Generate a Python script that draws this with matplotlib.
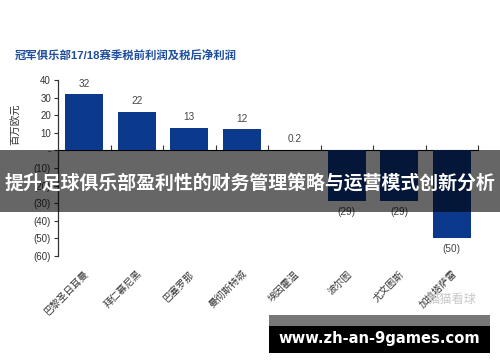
import matplotlib
matplotlib.use("Agg")
import matplotlib.pyplot as plt
from matplotlib.ticker import FuncFormatter
from matplotlib.patches import Rectangle

plt.rcParams['font.family'] = ['Liberation Sans', 'Noto Sans CJK SC', 'DejaVu Sans']

clubs = ["巴黎圣日耳曼", "拜仁慕尼黑", "巴塞罗那", "曼彻斯特城", "埃因霍温", "波尔图", "尤文图斯", "加拉塔萨雷"]
values = [32, 22, 13, 12, 0.2, -29, -29, -50]
value_labels = ["32", "22", "13", "12", "0.2", "(29)", "(29)", "(50)"]
yticks = [40, 30, 20, 10, 0, -10, -20, -30, -40, -50, -60]
title = "冠军俱乐部17/18赛季税前利润及税后净利润"
ylabel = "百万欧元"
banner = "提升足球俱乐部盈利性的财务管理策略与运营模式创新分析"
site = "www.zh-an-9games.com"
logo = "猫猫看球"

W, H = 500, 362
fig = plt.figure(figsize=(W / 100, H / 100), dpi=100)
fig.patch.set_facecolor("white")

ymin, ymax = -60, 40
ax = fig.add_axes([58 / W, 1 - 256 / H, 420 / W, 176 / H])
x = list(range(len(clubs)))
bars = ax.bar(x, values, width=0.73, color="#0b3a8c", zorder=2)
ax.bar_label(bars, labels=value_labels, padding=4, fontsize=7.2, color="#444444")

ax.set_xlim(-0.5, len(clubs) - 0.5)
ax.set_ylim(ymin, ymax)
ax.set_yticks(yticks)
ax.yaxis.set_major_formatter(FuncFormatter(
    lambda v, p: "-" if v == 0 else (f"({-v:.0f})" if v < 0 else f"{v:.0f}")))
ax.tick_params(axis="y", labelsize=7, colors="#333333", length=3, width=0.8, pad=2)

ax.set_xticks(x)
ax.set_xticklabels(clubs, rotation=45, ha="right", rotation_mode="anchor",
                   fontsize=7, color="#333333")
ax.tick_params(axis="x", length=0, pad=9)

for s in ["top", "right", "bottom"]:
    ax.spines[s].set_visible(False)
ax.spines["left"].set_color("#333333")
ax.spines["left"].set_linewidth(0.9)

# zero axis with category-boundary ticks
zero_frac = (0 - ymin) / (ymax - ymin)
sec = ax.secondary_xaxis(zero_frac)
sec.set_xticks([i + 0.5 for i in x])
sec.tick_params(axis="x", direction="out", length=3.5, width=0.8, color="#333333",
                labelbottom=False, labeltop=False)
sec.spines["bottom"].set_color("#333333")
sec.spines["bottom"].set_linewidth(0.9)

fig.text(15 / W, 1 - 55 / H, title, fontsize=8.2, fontweight="bold", color="#1f4e9e",
         ha="left", va="center")
fig.text(15 / W, 1 - 124 / H, ylabel, fontsize=7.5, color="#333333", rotation=90,
         ha="center", va="center")

# overlay banner
fig.patches.append(Rectangle((0, 1 - 212 / H), 1, 62 / H, transform=fig.transFigure,
                             facecolor="black", alpha=0.6, edgecolor="none", zorder=5))
fig.text(0.5, 1 - 183 / H, banner, fontsize=13.6, fontweight="bold", color="white",
         family=["Noto Sans CJK SC", "DejaVu Sans"], ha="center", va="center", zorder=6)

# faint logo watermark
fig.text(452 / W, 1 - 299 / H, logo, fontsize=8.8, color="#c8c8c8",
         family=["Noto Sans CJK SC", "DejaVu Sans"], ha="center", va="center", zorder=6)

# site watermark box
fig.patches.append(Rectangle((269 / W, 1 - 326 / H), 221 / W, 11 / H, transform=fig.transFigure,
                             facecolor="#777777", edgecolor="none", zorder=5))
fig.patches.append(Rectangle((269 / W, 1 - 353 / H), 221 / W, 27 / H, transform=fig.transFigure,
                             facecolor="black", edgecolor="none", zorder=5))
fig.text(379 / W, 1 - 339 / H, site, fontsize=10.6, fontweight="bold", color="white",
         family=["DejaVu Sans"], ha="center", va="center", zorder=6)

fig.savefig("out.png", dpi=100, facecolor="white")
